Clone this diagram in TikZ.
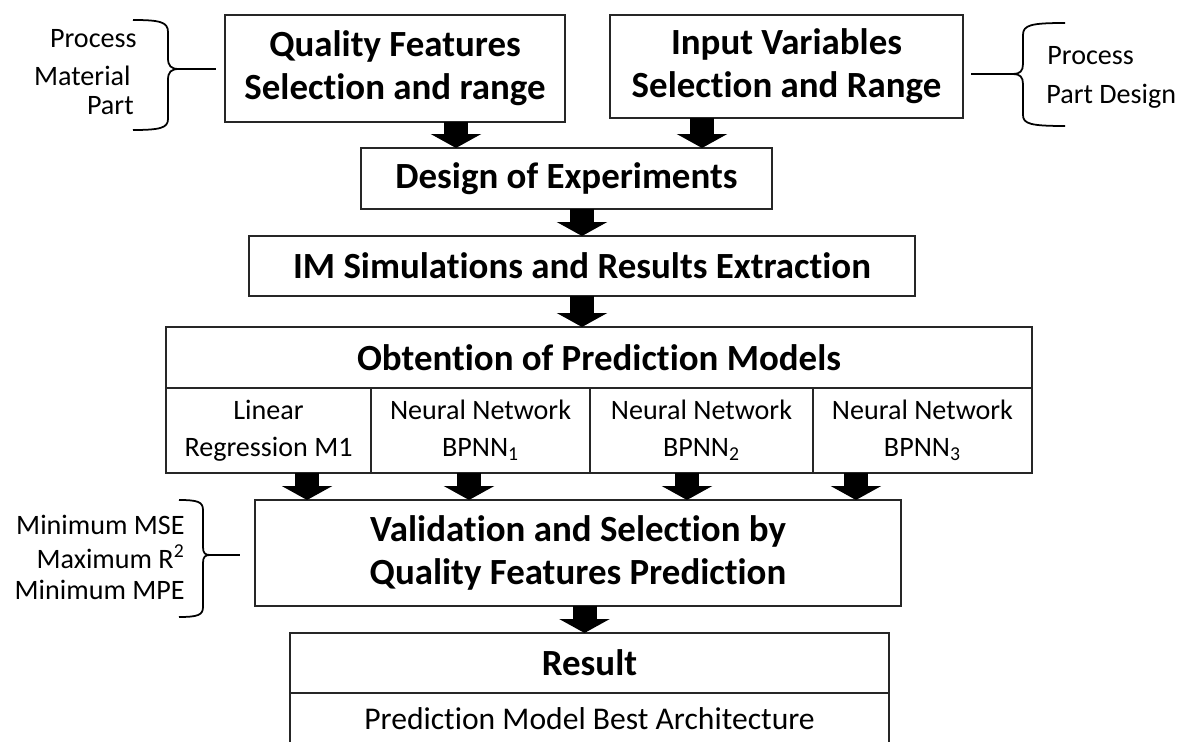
\documentclass[tikz,border=0pt]{standalone}
\usepackage{fontspec}
\setmainfont{Carlito}[Ligatures={NoCommon,NoRequired,NoContextual},Contextuals=NoAlternate,RawFeature={-dlig;-clig}]
\usetikzlibrary{positioning,arrows.meta}

\begin{document}
\begin{tikzpicture}[x=0.02cm,y=-0.02cm,
    box/.style={draw=black!85,line width=0.8pt,outer sep=0pt,inner sep=0pt,align=center,
      font=\fontsize{21}{24.5}\selectfont\bfseries},
    cell/.style={draw=black!85,line width=0.8pt,outer sep=0pt,inner sep=0pt,align=center,
      minimum height=1.7cm,font=\fontsize{16}{21}\selectfont},
    note/.style={inner sep=0pt,font=\fontsize{16}{19}\selectfont},
    fat/.style={line width=0.48cm,-{Triangle[length=0.28cm,width=1cm]}},
    brace/.style={line width=1pt}]
    \clip (0,0) rectangle (1181,742);
    % top row
    \node[box,minimum width=6.8cm,minimum height=2.14cm] (qf) at (395,68.5) {Quality Features\\Selection and range};
    \node[box,minimum width=7.06cm,minimum height=2.06cm] (iv) at (786.5,66.5) {Input Variables\\Selection and Range};
    \node[note,anchor=east] (lproc) at (137,39) {Process};
    \node[note,anchor=east] (lmat) at (131,76) {Material};
    \node[note,anchor=east] (lpart) at (134,106) {Part};
    \node[note,anchor=west] (rproc) at (1047,56) {Process};
    \node[note,anchor=west] (rpart) at (1046,96) {Part Design};
    \draw[brace] (133,20) .. controls (160,20) and (168,22) .. (168,32) -- (168,58)
      .. controls (168,66) and (171,69) .. (179,69) .. controls (171,69) and (168,72) .. (168,80)
      -- (168,119) .. controls (168,128) and (160,130) .. (133,130);
    \draw[brace] (179,69) -- (216,69);
    \draw[brace] (1065,23) .. controls (1031,23) and (1023,25) .. (1023,35) -- (1023,64)
      .. controls (1023,71) and (1020,74) .. (1013,74) .. controls (1020,74) and (1023,77) .. (1023,84)
      -- (1023,115) .. controls (1023,124) and (1031,126) .. (1065,126);
    \draw[brace] (971,74) -- (1013,74);
    % flow
    \node[box,minimum width=8.22cm,minimum height=1.22cm] (doe) at (566.5,178.5) {Design of Experiments};
    \node[box,minimum width=13.32cm,minimum height=1.2cm] (im) at (582,266) {IM Simulations and Results Extraction};
    \node[box,minimum width=17.32cm,minimum height=1.22cm] (obt) at (599,357.5) {Obtention of Prediction Models};
    \node[cell,minimum width=4.1cm,below right=0pt and 0pt of obt.south west] (m1) {Linear\\Regression M1};
    \node[cell,minimum width=4.38cm,right=0pt of m1] (m2) {Neural Network\\BPNN\textsubscript{1}};
    \node[cell,minimum width=4.46cm,right=0pt of m2] (m3) {Neural Network\\BPNN\textsubscript{2}};
    \node[cell,minimum width=4.38cm,right=0pt of m3] (m4) {Neural Network\\BPNN\textsubscript{3}};
    \node[box,minimum width=12.92cm,minimum height=2.12cm] (val) at (578,553) {Validation and Selection by\\Quality Features Prediction};
    \node[note,anchor=east] (mse) at (185,525) {Minimum MSE};
    \node[note,anchor=east] (rsq) at (185,557) {Maximum R\textsuperscript{2}};
    \node[note,anchor=east] (mpe) at (185,590) {Minimum MPE};
    \draw[brace] (179,500) .. controls (198,500) and (203,502) .. (203,510) -- (203,547)
      .. controls (203,553) and (205,555) .. (210,555) .. controls (205,555) and (203,557) .. (203,563)
      -- (203,607) .. controls (203,615) and (198,617) .. (179,617);
    \draw[brace] (210,555) -- (240,555);
    \node[box,minimum width=11.98cm,minimum height=1.2cm] (res) at (589.5,663) {Result};
    \node[cell,minimum width=11.98cm,minimum height=1.04cm,font=\fontsize{18}{21}\selectfont,below=0pt of res] (best) {Prediction Model Best Architecture};
    % arrows
    \draw[fat] ([xshift=1.22cm]qf.south) -- ([xshift=1.22cm]qf.south |- doe.north);
    \draw[fat] ([xshift=-1.69cm]iv.south) -- ([xshift=-1.69cm]iv.south |- doe.north);
    \draw[fat] (doe.south -| im.north) -- (im.north);
    \draw[fat] (im.south) -- (im.south |- obt.north);
    \draw[fat] ([xshift=0.77cm]m1.south) -- ([xshift=0.77cm]m1.south |- val.north);
    \draw[fat] ([xshift=-0.23cm]m2.south) -- ([xshift=-0.23cm]m2.south |- val.north);
    \draw[fat] ([xshift=-0.29cm]m3.south) -- ([xshift=-0.29cm]m3.south |- val.north);
    \draw[fat] ([xshift=-1.33cm]m4.south) -- ([xshift=-1.33cm]m4.south |- val.north);
    \draw[fat] ([xshift=-0.1cm]res.north |- val.south) -- ([xshift=-0.1cm]res.north);
\end{tikzpicture}
\end{document}
